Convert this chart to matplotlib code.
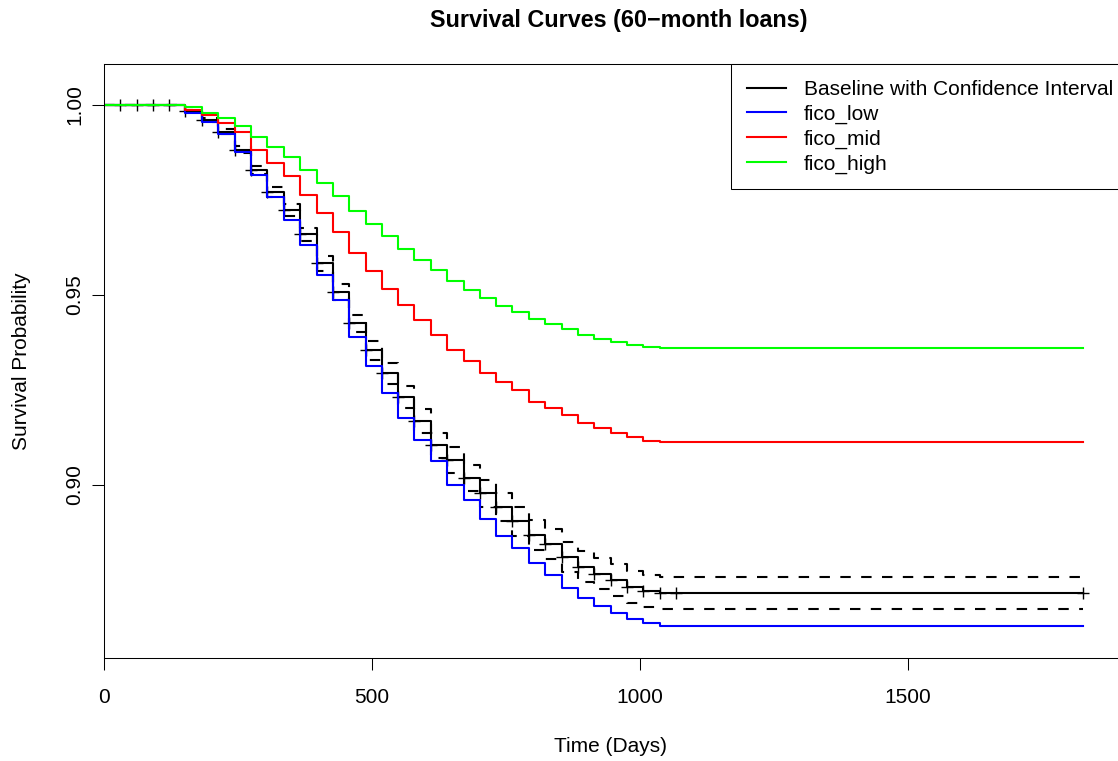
import matplotlib
matplotlib.use("Agg")
import matplotlib.pyplot as plt
from matplotlib.lines import Line2D
import numpy as np

plt.rcParams['font.family'] = ['Liberation Sans', 'DejaVu Sans']

# step times (days) -- value after each drop, last point is end of follow-up
days = [0, 151, 182, 213, 244, 275, 305, 335, 366, 397, 427, 457, 488, 518, 549,
        579, 610, 640, 671, 701, 732, 762, 793, 823, 854, 884, 915, 945, 976,
        1006, 1037, 1826]

baseline = [1.0, 0.9985, 0.9961, 0.993, 0.9882, 0.9829, 0.9772, 0.9724, 0.966,
            0.9583, 0.9509, 0.9425, 0.9355, 0.9294, 0.9232, 0.9168, 0.9105,
            0.9066, 0.9018, 0.8978, 0.8941, 0.8904, 0.8868, 0.8845, 0.881,
            0.8785, 0.8766, 0.875, 0.8732, 0.8722, 0.8716, 0.8716]
baseline_upper = [1.0, 0.9988, 0.9966, 0.9937, 0.9891, 0.984, 0.9785, 0.9739,
                  0.9677, 0.9602, 0.953, 0.9448, 0.938, 0.9321, 0.9261, 0.9199,
                  0.9138, 0.91, 0.9053, 0.9014, 0.8978, 0.8942, 0.8907, 0.8885,
                  0.885, 0.8826, 0.8807, 0.8792, 0.8774, 0.8764, 0.8758, 0.8758]
baseline_lower = [1.0, 0.9982, 0.9956, 0.9923, 0.9873, 0.9818, 0.9759, 0.9709,
                  0.9643, 0.9564, 0.9488, 0.9402, 0.933, 0.9267, 0.9203, 0.9137,
                  0.9072, 0.9032, 0.8983, 0.8942, 0.8904, 0.8866, 0.8829, 0.8805,
                  0.877, 0.8744, 0.8725, 0.8708, 0.869, 0.868, 0.8674, 0.8674]
fico_low = [1.0, 0.998, 0.9956, 0.9924, 0.9877, 0.9816, 0.9759, 0.9697, 0.9632,
            0.9553, 0.9487, 0.939, 0.9312, 0.9243, 0.9176, 0.9118, 0.9062, 0.9,
            0.896, 0.891, 0.8865, 0.8833, 0.8794, 0.8763, 0.8728, 0.8702, 0.8682,
            0.8662, 0.8647, 0.8638, 0.8629, 0.8629]
fico_mid = [1.0, 0.9987, 0.9974, 0.9952, 0.993, 0.9882, 0.9847, 0.9812, 0.9763,
            0.9715, 0.9667, 0.961, 0.9564, 0.9516, 0.9474, 0.9434, 0.9395, 0.9355,
            0.9325, 0.9294, 0.9272, 0.925, 0.9219, 0.9202, 0.9184, 0.9163, 0.915,
            0.9138, 0.9126, 0.9117, 0.9114, 0.9114]
fico_high = [1.0, 0.9996, 0.998, 0.9965, 0.9945, 0.9917, 0.9889, 0.9862, 0.983,
             0.9796, 0.976, 0.9722, 0.9687, 0.9654, 0.962, 0.9592, 0.9566, 0.9537,
             0.9513, 0.9493, 0.9472, 0.9456, 0.9437, 0.9424, 0.941, 0.9395, 0.9384,
             0.9375, 0.9368, 0.9363, 0.936, 0.936]

# censoring marks on the baseline curve
censor_days = [30, 61, 91, 122, 152, 182, 213, 244, 275, 305, 335, 366, 397, 427,
               457, 488, 518, 549, 579, 610, 640, 671, 701, 732, 762, 793, 823,
               854, 884, 915, 945, 976, 1006, 1037, 1067, 1826]

W, H = 1118, 761
fig = plt.figure(figsize=(W / 100, H / 100), dpi=100)
ax = fig.add_axes([104 / W, 1 - 657.7 / H, (W - 104) / W, (657.7 - 64.3) / H])

lw = 1.5
fs = 15
ax.step(days, baseline, where="post", color="black", lw=lw)
ax.step(days, baseline_upper, where="post", color="black", lw=lw,
        linestyle=(0, (5, 5)))
ax.step(days, baseline_lower, where="post", color="black", lw=lw,
        linestyle=(0, (5, 5)))
idx = np.searchsorted(days, censor_days, side="right") - 1
ax.plot(censor_days, np.array(baseline)[idx], linestyle="none", marker="+",
        color="black", markersize=9, markeredgewidth=1.0)

ax.step(days, fico_low, where="post", color="#0000FF", lw=lw)
ax.step(days, fico_mid, where="post", color="#FF0000", lw=lw)
ax.step(days, fico_high, where="post", color="#00FF00", lw=lw)

ax.set_xlim(0, (W - 104) / 0.536)
ax.set_ylim(0.85455, 1.01071)
ax.set_xticks([0, 500, 1000, 1500])
ax.set_yticks([0.90, 0.95, 1.00])
ax.set_yticklabels(["0.90", "0.95", "1.00"], rotation=90, va="center")
ax.tick_params(axis="both", direction="out", length=8.6, width=0.75,
               labelsize=fs, color="black")
ax.tick_params(axis="x", pad=13)
ax.tick_params(axis="y", pad=5.5)
for s in ["left", "bottom", "top"]:
    ax.spines[s].set_linewidth(0.75)
ax.spines["right"].set_visible(False)

ax.set_xlabel("Time (Days)", fontsize=fs, labelpad=22)
ax.set_ylabel("Survival Probability", fontsize=fs, labelpad=25)
fig.suptitle("Survival Curves (60\u2212month loans)", fontsize=16.8,
             fontweight="bold", x=619 / W, y=1 - 20 / H, va="center")

handles = [Line2D([], [], color=c, lw=lw) for c in
           ["black", "#0000FF", "#FF0000", "#00FF00"]]
labels = ["Baseline with Confidence Interval", "fico_low", "fico_mid", "fico_high"]
leg = ax.legend(handles, labels, loc="upper left",
                bbox_to_anchor=((731 - 104) / (W - 104), 1.0),
                borderaxespad=0, fontsize=fs, fancybox=False, framealpha=1,
                edgecolor="black", handlelength=1.87, handletextpad=0.86,
                labelspacing=0.27, borderpad=0.75)
leg.get_frame().set_linewidth(0.75)

fig.savefig("out.png", dpi=100)
